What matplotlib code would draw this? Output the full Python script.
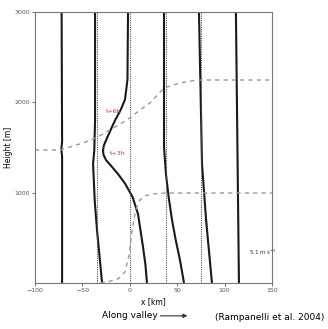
import matplotlib.pyplot as plt

# isentropes at the later time (solid lines)
a_h = [0, 1400, 1480, 1560, 3000]
a_x = [-71.5, -71.5, -72.3, -71.5, -72.0]

b_h = [0, 300, 580, 900, 1320, 1470, 1800, 3000]
b_x = [-29.3, -32.0, -34.6, -37.0, -38.8, -37.5, -36.7, -36.7]

c_h = [0, 200, 400, 600, 760, 950, 1100, 1200, 1300, 1360, 1420, 1470, 1520, 1580, 1700, 1800, 1920, 2030, 2250, 3000]
c_x = [18.1, 16.5, 13.9, 11.0, 8.7, 3.0, -5.0, -12.0, -20.0, -25.1, -27.8, -28.3, -27.5, -25.1, -20.0, -15.6, -9.5, -5.1, -2.5, -1.9]

d_h = [0, 250, 500, 700, 950, 1200, 1500, 3000]
d_x = [57.2, 53.0, 48.0, 44.5, 41.0, 38.2, 36.1, 36.1]

e_h = [0, 700, 1317, 3000]
e_x = [86.7, 80.5, 76.2, 73.0]

f_h = [0, 3000]
f_x = [115.2, 112.0]

# initial isentropes (dotted verticals)
init_x = [-35, 0, 38, 75]

# gray dashed layer tops
up_x = [-100, -73.6, -49.4, -35, -20.9, -10, 0.2, 10, 21.3, 36.1, 53, 70.9, 150]
up_h = [1472, 1472, 1550, 1610, 1694, 1760, 1827, 1910, 1993, 2159, 2214, 2247, 2247]

lo_x = [-31, -24, -12.4, -5.1, -1.0, 2.3, 6.0, 10.7, 16.0, 24.5, 37.1, 150]
lo_h = [0, 11, 44, 122, 300, 576, 800, 919, 965, 985, 996, 996]

xticks = [-100, -50, 0, 50, 100, 150]
yticks = [1000, 2000, 3000]

fig = plt.figure(figsize=(3.28, 3.29), dpi=100)
ax = fig.add_axes([0.107, 0.14, 0.722, 0.8235])

for xs, hs in [(a_x, a_h), (b_x, b_h), (c_x, c_h), (d_x, d_h), (e_x, e_h), (f_x, f_h)]:
    ax.plot(xs, hs, color='#1a1a1a', lw=1.5, solid_capstyle='butt')

for xv in init_x:
    ax.plot([xv, xv], [0, 3000], color='#555555', lw=0.8, ls=(0, (1, 1)))

ax.plot(up_x, up_h, color='#999999', lw=1.0, ls=(0, (3, 3)))
ax.plot(lo_x, lo_h, color='#999999', lw=1.0, ls=(0, (3, 3)))

ax.text(-17, 1900, 't+6h', color='#cc3344', fontsize=4.5, ha='center', va='center')
ax.text(-13, 1430, 't+3h', color='#cc3344', fontsize=4.5, ha='center', va='center')
ax.text(126, 340, '5.1 m s$^{-1}$', fontsize=4.0, ha='left', va='center', color='#333333')

ax.set_xlim(-100, 150)
ax.set_ylim(0, 3000)
ax.set_xticks(xticks)
ax.set_yticks(yticks)
ax.tick_params(labelsize=4.5, length=2, width=0.6, colors='#555555', pad=1.5)
for s in ax.spines.values():
    s.set_color('#777777')
    s.set_linewidth(0.8)

ax.set_ylabel('Height [m]', fontsize=5.5, labelpad=1)
ax.set_xlabel('x [km]', fontsize=5.5, labelpad=3)

fig.text(0.31, 0.04, 'Along valley', fontsize=6.5, ha='left', va='center')
ax.annotate('', xy=(0.58, 0.04), xytext=(0.48, 0.04), xycoords='figure fraction',
            arrowprops=dict(arrowstyle='-|>', lw=0.8, color='#333333', mutation_scale=6))
fig.text(0.99, 0.035, '(Rampanelli et al. 2004)', fontsize=6.5, ha='right', va='center')

fig.savefig('out.png', dpi=100)
